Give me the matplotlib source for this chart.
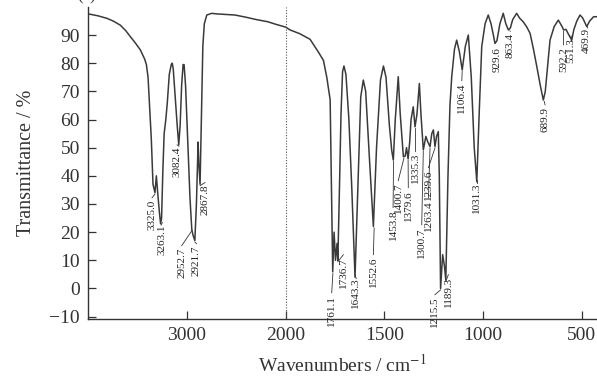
import numpy as np
import matplotlib.pyplot as plt
from matplotlib.ticker import FixedLocator, NullLocator

plt.rcParams['font.family'] = ['Liberation Serif', 'DejaVu Serif']
plt.rcParams['mathtext.fontset'] = 'stix'

# spectrum: wavenumber (cm-1) and transmittance (%)
wavenumber = [4000, 3900, 3810, 3750, 3676, 3620, 3574, 3520, 3473, 3430, 3412, 3395,
              3375, 3362, 3345, 3325, 3311, 3295, 3280, 3268, 3258, 3245, 3232, 3215,
              3200, 3180, 3160, 3150, 3140, 3120, 3100, 3084, 3070, 3055, 3040, 3030,
              3015, 2990, 2970, 2952, 2940, 2921, 2905, 2888, 2880, 2868, 2855, 2840,
              2825, 2800, 2750, 2700, 2600, 2514, 2400, 2300, 2180, 2100, 2000, 1978,
              1930, 1877, 1835, 1809, 1792, 1775, 1768, 1762, 1755, 1748, 1740, 1736,
              1728, 1720, 1712, 1705, 1695, 1680, 1665, 1649, 1635, 1620, 1607, 1595,
              1575, 1556, 1540, 1520, 1505, 1492, 1475, 1463, 1455, 1445, 1430, 1420,
              1404, 1395, 1388, 1380, 1372, 1365, 1354, 1345, 1335, 1323, 1315, 1303,
              1290, 1280, 1269, 1260, 1252, 1244, 1236, 1227, 1222, 1215.5, 1205, 1196,
              1189, 1178, 1168, 1159, 1145, 1134, 1120, 1106, 1090, 1075, 1060, 1045,
              1032, 1020, 1007, 990, 974, 960, 948, 940, 930, 915, 898, 885,
              872, 862, 850, 830, 815, 797, 780, 762, 745, 728, 710, 695,
              685, 672, 661, 640, 619, 600, 592, 580, 570, 551, 540, 525,
              509, 495, 475, 460, 440, 423]
transmittance = [97.5, 96.8, 95.9, 95.0, 93.5, 91.5, 89.4, 87.0, 84.7, 81.5, 79.5, 75.0,
                 62.0, 53.0, 37.0, 34.0, 40.0, 33.0, 27.0, 23.0, 25.0, 42.0, 55.0, 60.0,
                 66.0, 76.0, 79.5, 80.0, 78.0, 68.0, 58.0, 51.0, 58.0, 72.0, 79.5, 79.5,
                 72.0, 50.0, 32.0, 21.0, 19.0, 17.0, 30.0, 52.0, 44.0, 37.0, 60.0, 86.0,
                 94.0, 97.1, 97.7, 97.5, 97.3, 97.1, 96.3, 95.5, 94.7, 93.8, 92.8, 91.8,
                 90.5, 88.5, 84.0, 81.0, 75.0, 67.0, 35.0, 6.0, 20.0, 10.0, 16.0, 10.0,
                 35.0, 62.0, 77.0, 79.0, 76.0, 60.0, 35.0, 4.0, 35.0, 68.0, 74.0, 70.0,
                 45.0, 22.0, 50.0, 74.0, 79.0, 75.0, 58.0, 49.0, 45.6, 60.0, 75.2, 62.0,
                 46.8, 47.0, 50.0, 46.0, 52.0, 60.0, 64.5, 57.4, 62.0, 72.8, 62.0, 49.2,
                 54.0, 52.0, 50.4, 55.0, 56.3, 50.4, 54.0, 55.7, 40.0, 0.0, 12.0, 8.0,
                 3.0, 40.0, 65.0, 75.2, 85.0, 88.2, 84.0, 77.6, 86.0, 90.0, 75.0, 50.0,
                 37.9, 62.0, 85.9, 94.0, 97.1, 94.0, 90.0, 87.0, 88.0, 94.0, 97.7, 94.0,
                 91.8, 92.5, 95.5, 97.7, 96.0, 94.7, 93.0, 90.6, 85.0, 78.8, 72.0, 66.9,
                 70.0, 80.0, 88.2, 93.0, 95.3, 93.0, 91.8, 92.0, 90.6, 88.2, 92.0, 95.0,
                 97.1, 96.0, 93.0, 95.0, 96.5, 96.5]

# peak labels: band position, depth of the band, where the rotated label starts
peak_labels = ['3325.0', '3263.1', '3082.4', '2952.7', '2921.7', '2867.8',
               '1761.1', '1736.7', '1643.3', '1552.6', '1453.8', '1400.7',
               '1379.6', '1335.3', '1300.7', '1263.4', '1239.6', '1215.5',
               '1189.3', '1106.4', '1031.3', '929.6', '863.4', '689.9',
               '592.2', '551.3', '469.9']
peak_pos = [3325, 3263, 3082, 2952, 2921, 2868, 1761, 1736, 1643, 1552, 1454, 1401,
            1380, 1345, 1303, 1269, 1244, 1215.5, 1189, 1106, 1032, 930, 863, 690,
            592, 551, 470]
peak_depth = [34, 23, 51, 21, 17, 37, 6, 10, 4, 22, 45.6, 46.8,
              46, 57.4, 49.2, 50.4, 50.4, 0, 3, 77.6, 37.9, 87, 91.8, 66.9,
              91.8, 88.2, 93]
label_x = [3355, 3250, 3101, 3054, 2904, 2818, 1767, 1708, 1649, 1556, 1456, 1430,
           1379, 1345, 1311, 1277, 1277, 1244, 1176, 1108, 1032, 931, 864, 686,
           593, 554, 475]
label_top = [31.4, 22.6, 50.2, 14.4, 15.1, 36.8, -2.3, 11.2, 4.1, 11.2, 27.9, 37.5,
             35.0, 48.1, 21.8, 31.4, 42.1, -3.0, 4.1, 73.0, 37.8, 85.7, 90.7, 64.4,
             85.7, 88.9, 92.5]

x_ticks = [3000, 2000, 1500, 1000, 500]
y_ticks = [-10, 0, 10, 20, 30, 40, 50, 60, 70, 80, 90]


# instrument style axis: 1000 cm-1 per unit above 2000, 500 cm-1 per unit below
def forward(w):
    w = np.asarray(w, dtype=float)
    return np.where(w >= 2000, w - 4000, 2 * (w - 2000) - 2000)


def inverse(u):
    u = np.asarray(u, dtype=float)
    return np.where(u >= -2000, u + 4000, (u + 2000) / 2 + 2000)


fig = plt.figure(figsize=(5.97, 3.81), dpi=100)
ax = fig.add_axes([0.148, 0.163, 0.852, 0.819])
ax.set_xscale('function', functions=(forward, inverse))

ax.plot(wavenumber, transmittance, color='#3a3a3a', lw=1.1)
ax.axvline(2000, color='#555555', lw=0.8, ls=(0, (1, 1.5)))

for lab, px, pd, lx, lt in zip(peak_labels, peak_pos, peak_depth, label_x, label_top):
    ax.plot([px, lx], [pd - 0.5, lt + 0.8], color='#333333', lw=0.6)
    ax.text(lx, lt, lab, rotation=90, ha='center', va='top', fontsize=8,
            color='#222222')

ax.set_xlim(4000, 423)
ax.set_ylim(-10.8, 100)
ax.xaxis.set_major_locator(FixedLocator(x_ticks))
ax.xaxis.set_minor_locator(NullLocator())
ax.yaxis.set_major_locator(FixedLocator(y_ticks))
ax.set_xticklabels([str(t) for t in x_ticks])

for side in ['top', 'right']:
    ax.spines[side].set_visible(False)
for side in ['left', 'bottom']:
    ax.spines[side].set_linewidth(1.0)
    ax.spines[side].set_color('#333333')
ax.tick_params(direction='in', length=6, width=0.9, labelsize=14, pad=6,
               colors='#333333')

ax.set_ylabel('Transmittance / %', fontsize=14.5, color='#333333', labelpad=10)
ax.set_xlabel('Wavenumbers / cm$^{-1}$', fontsize=14, color='#333333', labelpad=7)
fig.text(0.13, 1.01, '(a)', fontsize=12, va='center', color='#333333')

fig.savefig('out.png', dpi=100)
